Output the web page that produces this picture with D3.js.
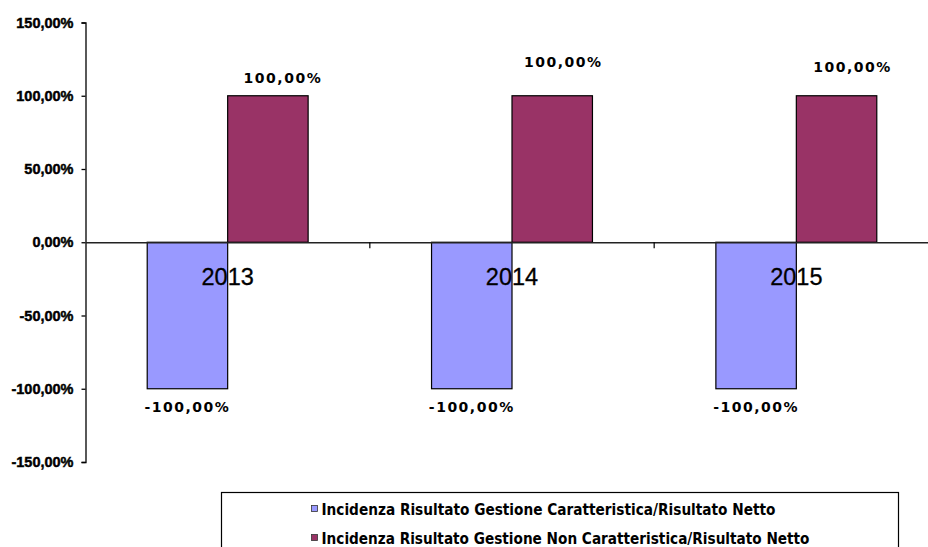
<!DOCTYPE html>
<html>
<head>
<meta charset="utf-8">
<script src="https://cdn.jsdelivr.net/npm/d3@7"></script>
<style>
  body { margin: 0; background: #fff; }
  svg { display: block; }
</style>
</head>
<body>
<div id="chart"></div>
<script>
// data
var years = ["2013", "2014", "2015"];
var seriesNames = [
  "Incidenza Risultato Gestione Caratteristica/Risultato Netto",
  "Incidenza Risultato Gestione Non Caratteristica/Risultato Netto"
];
var caratteristica = [-1.0, -1.0, -1.0];
var nonCaratteristica = [1.0, 1.0, 1.0];
var yTicks = [-1.5, -1.0, -0.5, 0, 0.5, 1.0, 1.5];

// manual nudges for the positive labels (dx, dy) as placed in the original
var labelNudge = [[15, -18], [11, -34], [16, -29]];

var svgWidth = 928;
var svgHeight = 547;

var margin = { top: 22.5, right: -10.5, bottom: 85, left: 85.5 };
var width = svgWidth - margin.left - margin.right;
var height = svgHeight - margin.top - margin.bottom;

var colors = ["#9999FF", "#993366"];

// italian style: comma decimal, plain hyphen for minus
var fmt = function(v) {
  return d3.format(".2f")(v * 100).replace(".", ",").replace("\u2212", "-") + "%";
};

var svg = d3.select("#chart")
  .append("svg")
  .attr("width", svgWidth)
  .attr("height", svgHeight);

var chartGroup = svg.append("g")
  .attr("transform", `translate(${margin.left}, ${margin.top})`);

var data = years.map(function(y, i) {
  return { year: y, values: [caratteristica[i], nonCaratteristica[i]] };
});

// scales
var xScale = d3.scaleBand()
  .domain(years)
  .range([0, width])
  .padding(0);

var xInner = d3.scaleBand()
  .domain([0, 1])
  .range([0, xScale.bandwidth()])
  .paddingInner(0)
  .paddingOuter(0.767);

var yScale = d3.scaleLinear()
  .domain([-1.5, 1.5])
  .range([height, 0]);

// y axis
var leftAxis = d3.axisLeft(yScale)
  .tickValues(yTicks)
  .tickSize(4)
  .tickPadding(8)
  .tickFormat(fmt);

var yAxisG = chartGroup.append("g")
  .call(leftAxis);
yAxisG.select(".domain").attr("stroke", "#000").attr("stroke-width", 1.3);
yAxisG.selectAll(".tick line").attr("stroke", "#000").attr("stroke-width", 1.3);
yAxisG.selectAll(".tick text")
  .attr("font-family", "Liberation Sans, Arial, sans-serif")
  .attr("font-weight", "bold")
  .attr("font-size", 14.5)
  .attr("fill", "#000")
  .attr("stroke", "#000")
  .attr("stroke-width", 0.45);

// bars
var groups = chartGroup.selectAll("g.year")
  .data(data)
  .enter()
  .append("g")
  .attr("class", "year")
  .attr("transform", d => `translate(${xScale(d.year)}, 0)`);

groups.selectAll("rect")
  .data(d => d.values.map((v, k) => ({ k: k, v: v })))
  .enter()
  .append("rect")
  .attr("x", d => xInner(d.k))
  .attr("width", xInner.bandwidth())
  .attr("y", d => yScale(Math.max(0, d.v)))
  .attr("height", d => Math.abs(yScale(d.v) - yScale(0)))
  .attr("fill", d => colors[d.k])
  .attr("stroke", "#000")
  .attr("stroke-width", 1.2);

// x axis along zero
var bottomAxis = d3.axisBottom(xScale).tickSize(0).tickFormat("");
var xAxisG = chartGroup.append("g")
  .attr("transform", `translate(0, ${yScale(0)})`)
  .call(bottomAxis);
xAxisG.select(".domain").attr("stroke", "#222").attr("stroke-width", 1.3);

// category boundary ticks
xAxisG.selectAll("line.sep")
  .data(years.slice(1))
  .enter()
  .append("line")
  .attr("class", "sep")
  .attr("x1", d => xScale(d))
  .attr("x2", d => xScale(d))
  .attr("y1", 0)
  .attr("y2", 6)
  .attr("stroke", "#000")
  .attr("stroke-width", 1.2);

// category labels
chartGroup.selectAll("text.cat")
  .data(years)
  .enter()
  .append("text")
  .attr("class", "cat")
  .attr("x", d => xScale(d) + xScale.bandwidth() / 2)
  .attr("y", yScale(0) + 43)
  .attr("text-anchor", "middle")
  .attr("font-family", "Liberation Sans, Arial, sans-serif")
  .attr("font-size", 23.5)
  .attr("fill", "#000")
  .attr("stroke", "#000")
  .attr("stroke-width", 0.3)
  .text(d => d);

// data labels
var labelFont = "DejaVu Sans, Verdana, sans-serif";

chartGroup.selectAll("text.neg")
  .data(data)
  .enter()
  .append("text")
  .attr("class", "neg")
  .attr("x", d => xScale(d.year) + xInner(0) + xInner.bandwidth() / 2)
  .attr("y", d => yScale(d.values[0]) + 23)
  .attr("text-anchor", "middle")
  .attr("font-family", labelFont)
  .attr("font-weight", "bold")
  .attr("font-size", 14)
  .attr("letter-spacing", 1.5)
  .attr("fill", "#000")
  .text(d => fmt(d.values[0]));

chartGroup.selectAll("text.pos")
  .data(data)
  .enter()
  .append("text")
  .attr("class", "pos")
  .attr("x", (d, i) => xScale(d.year) + xInner(1) + xInner.bandwidth() / 2 + labelNudge[i][0])
  .attr("y", (d, i) => yScale(d.values[1]) + labelNudge[i][1] + 5)
  .attr("text-anchor", "middle")
  .attr("font-family", labelFont)
  .attr("font-weight", "bold")
  .attr("font-size", 14)
  .attr("letter-spacing", 1.5)
  .attr("fill", "#000")
  .text(d => fmt(d.values[1]));

// legend
var legend = svg.append("g")
  .attr("transform", "translate(221.5, 492.5)");

legend.append("rect")
  .attr("width", 677)
  .attr("height", 70)
  .attr("fill", "#fff")
  .attr("stroke", "#000")
  .attr("stroke-width", 1.2);

var legendLengths = [454, 488];

var items = legend.selectAll("g.item")
  .data(seriesNames)
  .enter()
  .append("g")
  .attr("class", "item")
  .attr("transform", (d, i) => `translate(90, ${16.5 + i * 29})`);

items.append("rect")
  .attr("x", 0)
  .attr("y", -3.5)
  .attr("width", 6)
  .attr("height", 6)
  .attr("fill", (d, i) => colors[i])
  .attr("stroke", "#333")
  .attr("stroke-width", 0.8);

items.append("text")
  .attr("x", 10)
  .attr("y", 5.5)
  .attr("font-family", "Liberation Sans Narrow, DejaVu Sans Condensed, Arial Narrow, sans-serif")
  .attr("font-weight", "bold")
  .attr("font-size", 15)
  .attr("fill", "#000")
  .attr("textLength", (d, i) => legendLengths[i])
  .attr("lengthAdjust", "spacingAndGlyphs")
  .text(d => d);
</script>
</body>
</html>
